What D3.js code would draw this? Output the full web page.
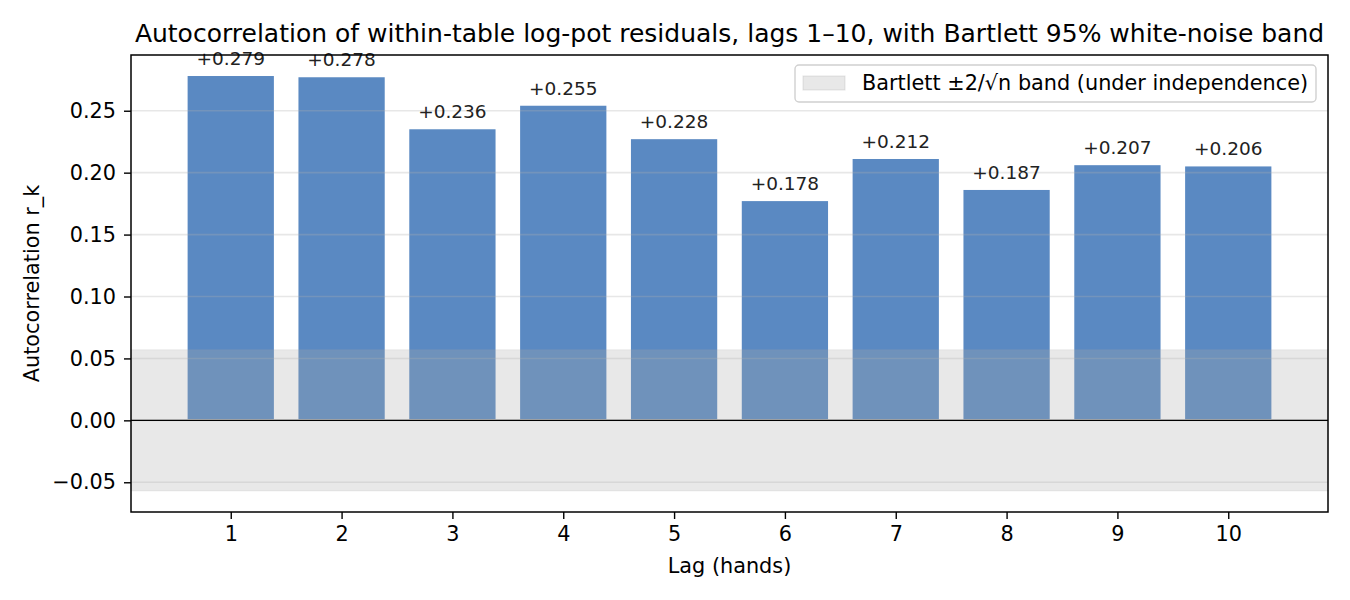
<!DOCTYPE html>
<html lang="en">
<head>
<meta charset="utf-8">
<title>Autocorrelation</title>
<script src="https://d3js.org/d3.v7.min.js"></script>
<style>
    body { margin: 0; background: #fff; }
    text { font-family: "DejaVu Sans", sans-serif; }
</style>
</head>
<body>
<svg width="1350" height="600"></svg>
<script>
    // data
    var lags = [1, 2, 3, 4, 5, 6, 7, 8, 9, 10];
    var rk = [0.279, 0.278, 0.236, 0.255, 0.228, 0.178, 0.212, 0.187, 0.207, 0.206];
    var band = 0.057;   // Bartlett 2/sqrt(n)
    var yTicks = [-0.05, 0.00, 0.05, 0.10, 0.15, 0.20, 0.25];

    var marge = {top: 55, bottom: 88, left: 131, right: 22};
    var svg = d3.select("svg");
    var width = +svg.attr("width") - marge.left - marge.right;
    var height = +svg.attr("height") - marge.top - marge.bottom;

    var g = svg.append("g")
        .attr("transform", "translate(" + marge.left + "," + marge.top + ")");

    var x = d3.scaleLinear().domain([0.1, 10.9]).range([0, width]);
    var y = d3.scaleLinear().domain([-0.074, 0.295]).range([height, 0]);
    var barW = 0.8;

    // bars
    g.selectAll(".bar")
        .data(rk)
        .enter()
        .append("rect")
        .attr("class", "bar")
        .attr("x", function(d, i) { return x(lags[i] - barW / 2); })
        .attr("width", x(barW) - x(0))
        .attr("y", function(d) { return y(d); })
        .attr("height", function(d) { return y(0) - y(d); })
        .attr("fill", "#5a89c2")
        .attr("stroke", "#fff")
        .attr("stroke-width", 2.4);

    // white-noise band on top of the bars
    g.append("rect")
        .attr("x", 0)
        .attr("width", width)
        .attr("y", y(band))
        .attr("height", y(-band) - y(band))
        .attr("fill", "#a9a9a9")
        .attr("fill-opacity", 0.27)
        .attr("stroke", "#a9a9a9")
        .attr("stroke-opacity", 0.15)
        .attr("stroke-width", 1);

    // horizontal grid
    g.selectAll(".grid")
        .data(yTicks)
        .enter()
        .append("line")
        .attr("x1", 0).attr("x2", width)
        .attr("y1", function(d) { return y(d); })
        .attr("y2", function(d) { return y(d); })
        .attr("stroke", "#b0b0b0")
        .attr("stroke-opacity", 0.3)
        .attr("stroke-width", 1.6);

    // zero line
    g.append("line")
        .attr("x1", 0).attr("x2", width)
        .attr("y1", y(0)).attr("y2", y(0))
        .attr("stroke", "#000")
        .attr("stroke-width", 1.4);

    // value labels
    g.selectAll(".lab")
        .data(rk)
        .enter()
        .append("text")
        .attr("x", function(d, i) { return x(lags[i]); })
        .attr("y", function(d) { return y(d) - 10; })
        .attr("text-anchor", "middle")
        .attr("font-size", "18.5px")
        .attr("fill", "#222")
        .text(function(d) { return "+" + d.toFixed(3); });

    // axes
    var fmtY = function(d) { return d3.format(".2f")(d).replace("-", "\u2212"); };
    var yAxis = d3.axisLeft(y).tickValues(yTicks).tickFormat(fmtY).tickSize(7).tickPadding(8);
    var xAxis = d3.axisBottom(x).tickValues(lags).tickFormat(d3.format("d")).tickSize(7).tickPadding(7.5);

    var gy = g.append("g").call(yAxis);
    var gx = g.append("g").attr("transform", "translate(0," + height + ")").call(xAxis);
    [gx, gy].forEach(function(a) {
        a.select(".domain").remove();
        a.selectAll(".tick line").attr("stroke", "#000").attr("stroke-width", 1.4);
        a.selectAll(".tick text").attr("font-size", "20.8px").attr("fill", "#000")
            .style("font-family", "DejaVu Sans, sans-serif");
    });

    // frame
    g.append("rect")
        .attr("width", width).attr("height", height)
        .attr("fill", "none")
        .attr("stroke", "#000")
        .attr("stroke-width", 1.5);

    // legend
    var lg = g.append("g").attr("transform", "translate(" + (width - 533) + ",10)");
    lg.append("rect")
        .attr("width", 521).attr("height", 37)
        .attr("rx", 4)
        .attr("fill", "#fff").attr("fill-opacity", 0.8)
        .attr("stroke", "#d0d0d0").attr("stroke-width", 1.4);
    lg.append("rect")
        .attr("x", 8).attr("y", 11).attr("width", 42).attr("height", 14)
        .attr("fill", "#a9a9a9").attr("fill-opacity", 0.27)
        .attr("stroke", "#a9a9a9").attr("stroke-opacity", 0.3);
    lg.append("text")
        .attr("x", 67).attr("y", 25)
        .attr("font-size", "20.8px")
        .text("Bartlett \u00b12/\u221an band (under independence)");

    // titles
    svg.append("text")
        .attr("x", marge.left + width / 2).attr("y", 42)
        .attr("text-anchor", "middle")
        .attr("font-size", "25px")
        .text("Autocorrelation of within-table log-pot residuals, lags 1\u201310, with Bartlett 95% white-noise band");

    svg.append("text")
        .attr("x", marge.left + width / 2).attr("y", 573)
        .attr("text-anchor", "middle")
        .attr("font-size", "20.8px")
        .text("Lag (hands)");

    svg.append("text")
        .attr("transform", "translate(39," + (marge.top + height / 2) + ") rotate(-90)")
        .attr("text-anchor", "middle")
        .attr("font-size", "20.8px")
        .text("Autocorrelation r_k");
</script>
</body>
</html>
